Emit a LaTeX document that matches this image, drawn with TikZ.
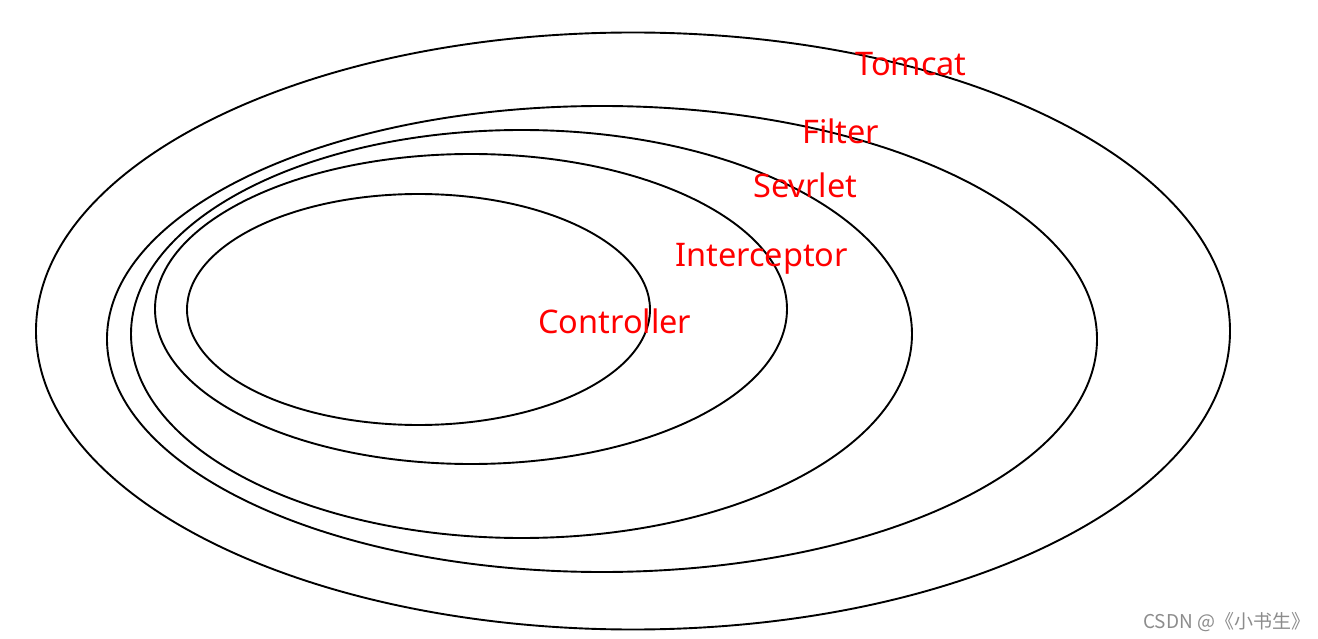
\documentclass[tikz,border=0pt]{standalone}
\usepackage{fontspec}
\setmainfont{Noto Sans}
\newfontfamily\cjkfont{Noto Sans CJK SC}
\begin{document}
\begin{tikzpicture}[x=1pt,y=-1pt,
  ring/.style={draw=black,line width=1.9pt},
  lbl/.style={anchor=base west,inner sep=0pt,text=red,font=\fontsize{32.5}{40}\selectfont},
  wm/.style={anchor=base west,inner sep=0pt,text=black!45,font=\cjkfont\fontsize{19}{22}\selectfont}]
\useasboundingbox (0,0) rectangle (1318,639);
\draw[ring] (633,331) ellipse [x radius=597pt, y radius=298.5pt];
\draw[ring] (602,339) ellipse [x radius=495pt, y radius=233pt];
\draw[ring] (521.5,334) ellipse [x radius=390.5pt, y radius=204pt];
\draw[ring] (471,309) ellipse [x radius=316pt, y radius=155pt];
\draw[ring] (418.5,309.5) ellipse [x radius=231.5pt, y radius=115.5pt];
\node[lbl] (tomcat) at (855,76) {Tomcat};
\node[lbl] (filter) at (802,144) {Filter};
\node[lbl] (servlet) at (753,198) {Sevrlet};
\node[lbl] (interceptor) at (675,267) {Interceptor};
\node[lbl] (controller) at (538,334) {Controller};
\node[wm] (watermark) at (1143,628) {CSDN @《小书生》};
\end{tikzpicture}
\end{document}
